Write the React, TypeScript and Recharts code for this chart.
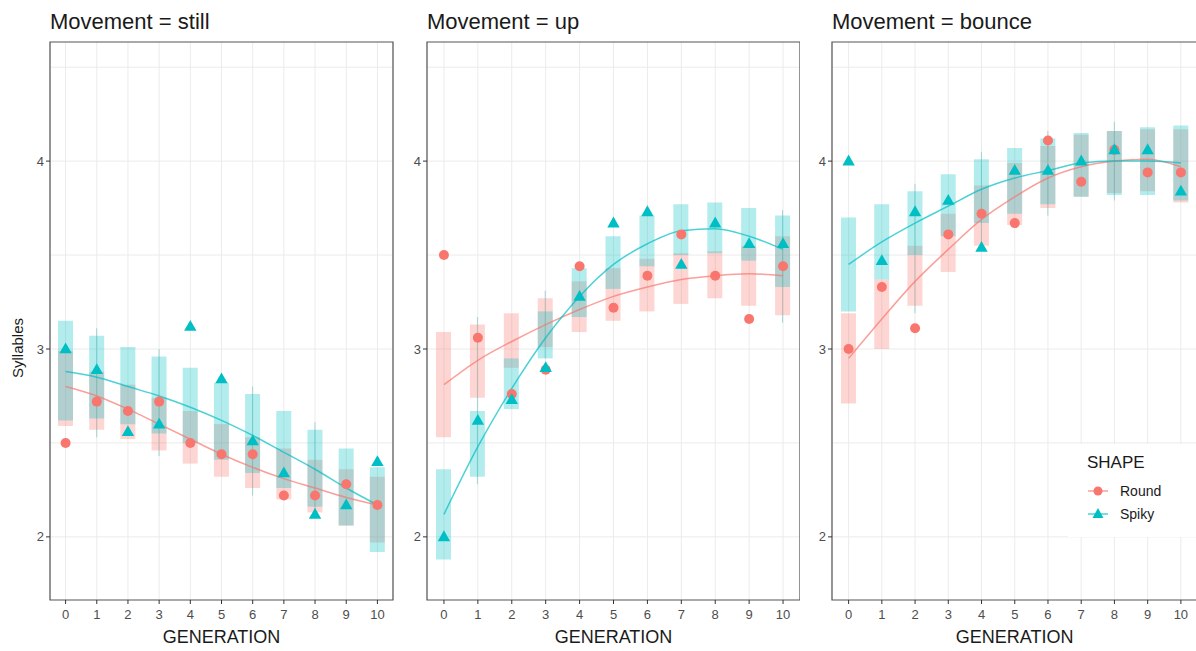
import React from "react";
import {
  ComposedChart,
  Bar,
  Line,
  XAxis,
  YAxis,
  CartesianGrid,
  ReferenceArea,
} from "recharts";

const ROUND = "#F8766D";
const SPIKY = "#00BFC4";
const FONT = "'Liberation Sans', Arial, sans-serif";

const generations = [0, 1, 2, 3, 4, 5, 6, 7, 8, 9, 10];
const yTicks = [2, 3, 4];
const gridYTicks = [2, 2.5, 3, 3.5, 4, 4.5];
const gridXTicks = [0, 0.5, 1, 1.5, 2, 2.5, 3, 3.5, 4, 4.5, 5, 5.5, 6, 6.5, 7, 7.5, 8, 8.5, 9, 9.5, 10];
const yDomain = [1.664, 4.634];

// Movement = still
const stillRoundPt = [2.5, 2.72, 2.67, 2.72, 2.5, 2.44, 2.44, 2.22, 2.22, 2.28, 2.17];
const stillSpikyPt = [3.0, 2.89, 2.56, 2.6, 3.12, 2.84, 2.51, 2.34, 2.12, 2.17, 2.4];
const stillRoundFit = [2.8, 2.75, 2.68, 2.6, 2.52, 2.44, 2.37, 2.31, 2.26, 2.21, 2.17];
const stillSpikyFit = [2.88, 2.85, 2.8, 2.75, 2.69, 2.62, 2.54, 2.45, 2.36, 2.26, 2.17];
const stillRoundLow = [2.59, 2.57, 2.52, 2.46, 2.39, 2.32, 2.26, 2.2, 2.13, 2.06, 1.97];
const stillRoundHigh = [2.99, 2.88, 2.81, 2.74, 2.67, 2.6, 2.53, 2.47, 2.41, 2.36, 2.32];
const stillSpikyLow = [2.62, 2.63, 2.6, 2.55, 2.5, 2.41, 2.34, 2.26, 2.16, 2.06, 1.92];
const stillSpikyHigh = [3.15, 3.07, 3.01, 2.96, 2.9, 2.82, 2.76, 2.67, 2.57, 2.47, 2.37];
const stillWhiskLow = [null, 2.53, null, 2.43, null, null, 2.22, null, 2.13, null, null];
const stillWhiskHigh = [null, 3.11, null, 3.0, null, null, 2.8, null, 2.61, null, null];

// Movement = up
const upRoundPt = [3.5, 3.06, 2.76, 2.89, 3.44, 3.22, 3.39, 3.61, 3.39, 3.16, 3.44];
const upSpikyPt = [2.0, 2.62, 2.73, 2.9, 3.28, 3.67, 3.73, 3.45, 3.67, 3.56, 3.56];
const upRoundFit = [2.81, 2.94, 3.04, 3.13, 3.21, 3.28, 3.33, 3.37, 3.39, 3.4, 3.39];
const upSpikyFit = [2.12, 2.48, 2.79, 3.06, 3.28, 3.45, 3.56, 3.63, 3.64, 3.6, 3.53];
const upRoundLow = [2.53, 2.74, 2.9, 3.01, 3.09, 3.15, 3.2, 3.24, 3.27, 3.23, 3.18];
const upRoundHigh = [3.09, 3.13, 3.19, 3.27, 3.36, 3.43, 3.48, 3.51, 3.52, 3.55, 3.6];
const upSpikyLow = [1.88, 2.32, 2.68, 2.95, 3.17, 3.32, 3.44, 3.5, 3.51, 3.47, 3.33];
const upSpikyHigh = [2.36, 2.67, 2.95, 3.2, 3.43, 3.6, 3.71, 3.77, 3.78, 3.75, 3.71];
const upWhiskLow = [null, 2.28, null, 2.95, null, null, null, null, null, null, 3.14];
const upWhiskHigh = [null, 3.17, null, 3.31, null, null, null, null, null, null, 3.74];

// Movement = bounce
const bounceRoundPt = [3.0, 3.33, 3.11, 3.61, 3.72, 3.67, 4.11, 3.89, 4.06, 3.94, 3.94];
const bounceSpikyPt = [4.0, 3.47, 3.73, 3.79, 3.54, 3.95, 3.95, 4.0, 4.06, 4.06, 3.84];
const bounceRoundFit = [2.95, 3.16, 3.36, 3.53, 3.69, 3.81, 3.91, 3.97, 4.0, 4.01, 3.97];
const bounceSpikyFit = [3.45, 3.57, 3.67, 3.76, 3.85, 3.91, 3.95, 3.99, 4.0, 4.0, 3.99];
const bounceRoundLow = [2.71, 3.0, 3.23, 3.41, 3.55, 3.66, 3.75, 3.81, 3.83, 3.84, 3.78];
const bounceRoundHigh = [3.19, 3.37, 3.55, 3.72, 3.87, 3.99, 4.08, 4.14, 4.16, 4.17, 4.17];
const bounceSpikyLow = [3.2, 3.37, 3.5, 3.6, 3.67, 3.72, 3.77, 3.81, 3.82, 3.82, 3.79];
const bounceSpikyHigh = [3.7, 3.77, 3.84, 3.93, 4.01, 4.07, 4.12, 4.15, 4.16, 4.18, 4.19];
const bounceWhiskLow = [null, null, 3.19, null, 3.55, null, 3.71, null, 3.79, null, null];
const bounceWhiskHigh = [null, null, 3.88, null, 4.05, null, 4.16, null, 4.21, null, null];

interface Panel {
  title: string;
  roundPt: number[];
  spikyPt: number[];
  roundFit: number[];
  spikyFit: number[];
  roundLow: number[];
  roundHigh: number[];
  spikyLow: number[];
  spikyHigh: number[];
  whiskLow: (number | null)[];
  whiskHigh: (number | null)[];
}

const panels: Panel[] = [
  {
    title: "Movement = still",
    roundPt: stillRoundPt, spikyPt: stillSpikyPt,
    roundFit: stillRoundFit, spikyFit: stillSpikyFit,
    roundLow: stillRoundLow, roundHigh: stillRoundHigh,
    spikyLow: stillSpikyLow, spikyHigh: stillSpikyHigh,
    whiskLow: stillWhiskLow, whiskHigh: stillWhiskHigh,
  },
  {
    title: "Movement = up",
    roundPt: upRoundPt, spikyPt: upSpikyPt,
    roundFit: upRoundFit, spikyFit: upSpikyFit,
    roundLow: upRoundLow, roundHigh: upRoundHigh,
    spikyLow: upSpikyLow, spikyHigh: upSpikyHigh,
    whiskLow: upWhiskLow, whiskHigh: upWhiskHigh,
  },
  {
    title: "Movement = bounce",
    roundPt: bounceRoundPt, spikyPt: bounceSpikyPt,
    roundFit: bounceRoundFit, spikyFit: bounceSpikyFit,
    roundLow: bounceRoundLow, roundHigh: bounceRoundHigh,
    spikyLow: bounceSpikyLow, spikyHigh: bounceSpikyHigh,
    whiskLow: bounceWhiskLow, whiskHigh: bounceWhiskHigh,
  },
];

// where each facet sits on the page
const layout = [
  { left: 0, width: 400, ml: 26, mr: 7, titleX: 50, center: 221.5 },
  { left: 400, width: 400, ml: 3, mr: 0, titleX: 427, center: 613.5 },
  { left: 805, width: 400, ml: 3, mr: 7.5, titleX: 832, center: 1014.7 },
];

const rowsFor = (p: Panel) =>
  generations.map((g, i) => ({
    gen: String(g),
    genNum: g,
    roundBox: [p.roundLow[i], p.roundHigh[i]],
    spikyBox: [p.spikyLow[i], p.spikyHigh[i]],
    whisker: p.whiskLow[i] == null ? null : [p.whiskLow[i], p.whiskHigh[i]],
    roundPt: p.roundPt[i],
    spikyPt: p.spikyPt[i],
    roundFit: p.roundFit[i],
    spikyFit: p.spikyFit[i],
  }));

const CircleDot = (props: any) => {
  const { cx, cy, index } = props;
  if (cx == null || cy == null) return <g key={`c-${index}`} />;
  return <circle key={`c-${index}`} cx={cx} cy={cy} r={5} fill={ROUND} />;
};

const TriangleDot = (props: any) => {
  const { cx, cy, index } = props;
  if (cx == null || cy == null) return <g key={`t-${index}`} />;
  const pts = `${cx},${cy - 6.5} ${cx - 6.2},${cy + 4.3} ${cx + 6.2},${cy + 4.3}`;
  return <polygon key={`t-${index}`} points={pts} fill={SPIKY} />;
};

const axisTick = { fill: "#4d4d4d", fontSize: 13 };

function Facet({ panel, pos }: { panel: Panel; pos: (typeof layout)[number] }) {
  const rows = rowsFor(panel);
  return (
    <div style={{ position: "absolute", left: pos.left, top: 0 }}>
      <ComposedChart
        width={pos.width}
        height={651}
        data={rows}
        margin={{ top: 42, right: pos.mr, bottom: 5, left: pos.ml }}
      >
        <CartesianGrid
          xAxisId="grid"
          yAxisId="y"
          horizontalValues={gridYTicks}
          stroke="#ebebeb"
          strokeWidth={1}
        />
        <XAxis
          xAxisId="a"
          dataKey="gen"
          interval={0}
          axisLine={false}
          tickLine={{ stroke: "#333" }}
          tickSize={4}
          tickMargin={6}
          tick={axisTick}
          height={46}
        />
        <XAxis xAxisId="b" dataKey="gen" hide />
        <XAxis xAxisId="c" dataKey="gen" hide />
        <XAxis
          xAxisId="grid"
          dataKey="genNum"
          type="number"
          domain={[-0.5, 10.5]}
          ticks={gridXTicks}
          allowDataOverflow
          hide
        />
        <YAxis
          yAxisId="y"
          type="number"
          domain={yDomain}
          ticks={yTicks}
          allowDataOverflow
          width={24}
          axisLine={false}
          tickLine={{ stroke: "#333" }}
          tickSize={4}
          tick={axisTick}
        />
        <Bar
          xAxisId="c"
          yAxisId="y"
          dataKey="whisker"
          barSize={1}
          fill="#8fc9c9"
          fillOpacity={0.8}
          isAnimationActive={false}
        />
        <Bar
          xAxisId="a"
          yAxisId="y"
          dataKey="roundBox"
          barSize={15}
          fill={ROUND}
          fillOpacity={0.3}
          isAnimationActive={false}
        />
        <Bar
          xAxisId="b"
          yAxisId="y"
          dataKey="spikyBox"
          barSize={15}
          fill={SPIKY}
          fillOpacity={0.3}
          isAnimationActive={false}
        />
        <Line
          xAxisId="a"
          yAxisId="y"
          type="monotone"
          dataKey="roundFit"
          stroke={ROUND}
          strokeOpacity={0.7}
          strokeWidth={1.5}
          dot={false}
          activeDot={false}
          isAnimationActive={false}
        />
        <Line
          xAxisId="a"
          yAxisId="y"
          type="monotone"
          dataKey="spikyFit"
          stroke={SPIKY}
          strokeOpacity={0.7}
          strokeWidth={1.5}
          dot={false}
          activeDot={false}
          isAnimationActive={false}
        />
        <Line
          xAxisId="a"
          yAxisId="y"
          dataKey="roundPt"
          stroke="none"
          dot={CircleDot}
          activeDot={false}
          isAnimationActive={false}
        />
        <Line
          xAxisId="a"
          yAxisId="y"
          dataKey="spikyPt"
          stroke="none"
          dot={TriangleDot}
          activeDot={false}
          isAnimationActive={false}
        />
        <ReferenceArea
          xAxisId="grid"
          yAxisId="y"
          x1={-0.5}
          x2={10.5}
          y1={yDomain[0]}
          y2={yDomain[1]}
          fill="none"
          stroke="#555"
          strokeWidth={1.2}
          ifOverflow="visible"
        />
      </ComposedChart>
    </div>
  );
}

export default function App() {
  return (
    <div
      style={{
        position: "absolute",
        left: 0,
        top: 0,
        width: 1196,
        height: 651,
        overflow: "hidden",
        background: "#fff",
        fontFamily: FONT,
      }}
    >
      {panels.map((p, i) => (
        <Facet key={p.title} panel={p} pos={layout[i]} />
      ))}
      <svg
        width={1196}
        height={651}
        style={{ position: "absolute", left: 0, top: 0, pointerEvents: "none" }}
        fontFamily={FONT}
      >
        {panels.map((p, i) => (
          <g key={p.title}>
            <text x={layout[i].titleX} y={29} fontSize={22} fill="#1a1a1a">
              {p.title}
            </text>
            <text x={layout[i].center} y={643} fontSize={18} fill="#1a1a1a" textAnchor="middle">
              GENERATION
            </text>
          </g>
        ))}
        <text
          transform="translate(23, 348) rotate(-90)"
          fontSize={15}
          fill="#1a1a1a"
          textAnchor="middle"
        >
          Syllables
        </text>
        <g transform="translate(1068, 444)">
          <rect x={0} y={0} width={128} height={93} fill="#fff" />
          <text x={19} y={23.5} fontSize={17} fill="#1a1a1a">
            SHAPE
          </text>
          <line x1={20} x2={40} y1={47} y2={47} stroke={ROUND} strokeOpacity={0.7} strokeWidth={1.5} />
          <circle cx={30} cy={47} r={4.5} fill={ROUND} />
          <text x={52} y={52} fontSize={14} fill="#1a1a1a">
            Round
          </text>
          <line x1={20} x2={40} y1={70} y2={70} stroke={SPIKY} strokeOpacity={0.7} strokeWidth={1.5} />
          <polygon points="30,64 24.5,74 35.5,74" fill={SPIKY} />
          <text x={52} y={75} fontSize={14} fill="#1a1a1a">
            Spiky
          </text>
        </g>
      </svg>
    </div>
  );
}
